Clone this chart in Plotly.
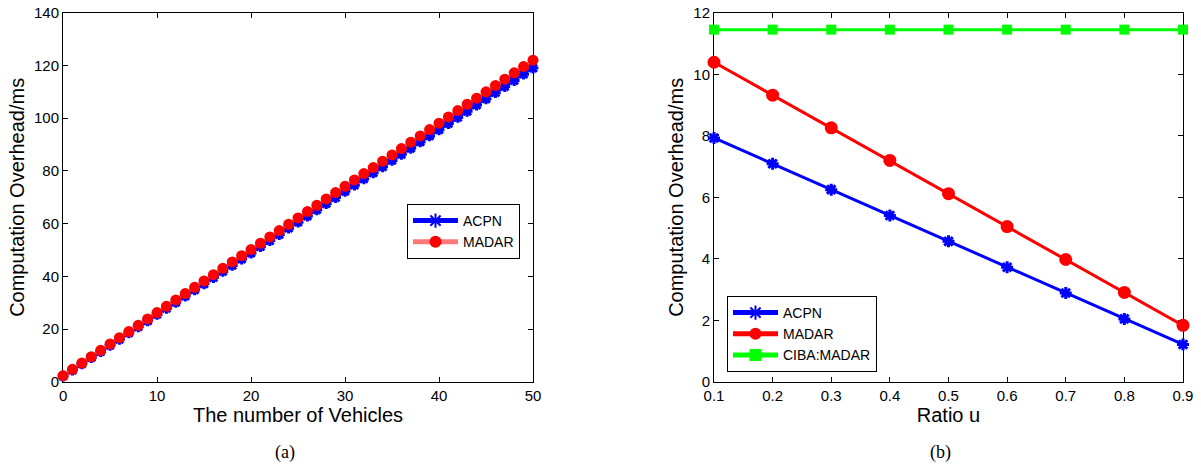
import plotly.graph_objects as go

# (a) computation overhead versus number of vehicles
vehicles = list(range(0, 51))
acpn_a = [2.2, 4.5, 6.9, 9.2, 11.5, 13.9, 16.2, 18.6, 20.9, 23.2, 25.6, 27.9, 30.2,
          32.6, 34.9, 37.2, 39.6, 41.9, 44.2, 46.6, 48.9, 51.3, 53.6, 55.9, 58.3, 60.6,
          62.9, 65.3, 67.6, 69.9, 72.3, 74.6, 77.0, 79.3, 81.6, 84.0, 86.3, 88.6, 91.0,
          93.3, 95.6, 98.0, 100.3, 102.6, 105.0, 107.3, 109.7, 112.0, 114.3, 116.7, 119.0]
madar_a = [2.4, 4.8, 7.2, 9.6, 12.0, 14.4, 16.8, 19.1, 21.5, 23.9, 26.3, 28.7, 31.1,
           33.5, 35.9, 38.3, 40.7, 43.1, 45.5, 47.9, 50.2, 52.6, 55.0, 57.4, 59.8, 62.2,
           64.6, 67.0, 69.4, 71.8, 74.2, 76.6, 79.0, 81.3, 83.7, 86.1, 88.5, 90.9, 93.3,
           95.7, 98.1, 100.5, 102.9, 105.3, 107.6, 110.0, 112.4, 114.8, 117.2, 119.6, 122.0]

# (b) computation overhead versus ratio u
ratio_u = [0.1, 0.2, 0.3, 0.4, 0.5, 0.6, 0.7, 0.8, 0.9]
acpn_b = [7.93, 7.09, 6.25, 5.41, 4.57, 3.73, 2.89, 2.05, 1.22]
madar_b = [10.39, 9.32, 8.26, 7.20, 6.12, 5.05, 3.98, 2.91, 1.84]
ciba_b = [11.45, 11.45, 11.45, 11.45, 11.45, 11.45, 11.45, 11.45, 11.45]

x_ticks_a = [0, 10, 20, 30, 40, 50]
y_ticks_a = [0, 20, 40, 60, 80, 100, 120, 140]
x_ticks_b = [0.1, 0.2, 0.3, 0.4, 0.5, 0.6, 0.7, 0.8, 0.9]
y_ticks_b = [0, 2, 4, 6, 8, 10, 12]

BLUE = "#0000ff"
RED = "#ff0000"
GREEN = "#00ff00"
FONT = "Liberation Sans, Arial, sans-serif"

fig = go.Figure()

fig.add_trace(go.Scatter(
    x=vehicles, y=acpn_a, name="ACPN", mode="lines+markers", cliponaxis=False,
    line=dict(color=BLUE, width=2.5),
    marker=dict(symbol="asterisk-open", size=9, color=BLUE, line=dict(color=BLUE, width=3)),
    xaxis="x", yaxis="y", legend="legend"))
fig.add_trace(go.Scatter(
    x=vehicles, y=madar_a, name="MADAR", mode="lines+markers", cliponaxis=False,
    line=dict(color="#ff7878", width=2),
    marker=dict(symbol="circle", size=11, color=RED),
    xaxis="x", yaxis="y", legend="legend"))

fig.add_trace(go.Scatter(
    x=ratio_u, y=acpn_b, name="ACPN", mode="lines+markers", cliponaxis=False,
    line=dict(color=BLUE, width=3),
    marker=dict(symbol="asterisk-open", size=10, color=BLUE, line=dict(color=BLUE, width=3)),
    xaxis="x2", yaxis="y2", legend="legend2"))
fig.add_trace(go.Scatter(
    x=ratio_u, y=madar_b, name="MADAR", mode="lines+markers", cliponaxis=False,
    line=dict(color=RED, width=3),
    marker=dict(symbol="circle", size=13, color=RED),
    xaxis="x2", yaxis="y2", legend="legend2"))
fig.add_trace(go.Scatter(
    x=ratio_u, y=ciba_b, name="CIBA:MADAR", mode="lines+markers", cliponaxis=False,
    line=dict(color=GREEN, width=3),
    marker=dict(symbol="square", size=10, color=GREEN),
    xaxis="x2", yaxis="y2", legend="legend2"))

axis_common = dict(
    showline=True, linecolor="black", linewidth=1, mirror="ticks",
    ticks="inside", ticklen=5, tickcolor="black", showgrid=False, zeroline=False,
    automargin=False, layer="below traces",
    tickfont=dict(family=FONT, size=15, color="black"),
)
title_font = dict(family=FONT, size=20, color="black")
legend_common = dict(
    xanchor="left", yanchor="top", bgcolor="white", bordercolor="black", borderwidth=1,
    font=dict(family=FONT, size=14, color="black"),
    tracegroupgap=0, itemsizing="constant", itemwidth=45,
)

fig.update_layout(
    width=1201, height=466,
    margin=dict(l=0, r=0, t=0, b=0, autoexpand=False),
    paper_bgcolor="white", plot_bgcolor="white",
    showlegend=True,
    xaxis=dict(domain=[0.0525, 0.4438], range=[0, 50], tickvals=x_ticks_a,
               title=dict(text="The number of Vehicles", font=title_font, standoff=3),
               anchor="y", **axis_common),
    yaxis=dict(domain=[0.1803, 0.9727], range=[0, 140], tickvals=y_ticks_a,
               title=dict(text="Computation Overhead/ms", font=title_font, standoff=4),
               anchor="x", **axis_common),
    xaxis2=dict(domain=[0.5945, 0.985], range=[0.1, 0.9], tickvals=x_ticks_b,
                tickformat=".1f",
                title=dict(text="Ratio u", font=title_font, standoff=3),
                anchor="y2", **axis_common),
    yaxis2=dict(domain=[0.1803, 0.9727], range=[0, 12], tickvals=y_ticks_b,
                title=dict(text="Computation Overhead/ms", font=title_font, standoff=4),
                anchor="x2", **axis_common),
    legend=dict(x=407 / 1201, y=1 - 204 / 466, **legend_common),
    legend2=dict(x=727 / 1201, y=1 - 296 / 466, **legend_common),
    annotations=[
        dict(text="(a)", x=285 / 1201, y=1 - 452 / 466, xref="paper", yref="paper",
             xanchor="center", yanchor="middle", showarrow=False,
             font=dict(family="Liberation Serif, Times New Roman, serif", size=18, color="black")),
        dict(text="(b)", x=940 / 1201, y=1 - 452 / 466, xref="paper", yref="paper",
             xanchor="center", yanchor="middle", showarrow=False,
             font=dict(family="Liberation Serif, Times New Roman, serif", size=18, color="black")),
    ],
)

fig.write_html("out.html")
